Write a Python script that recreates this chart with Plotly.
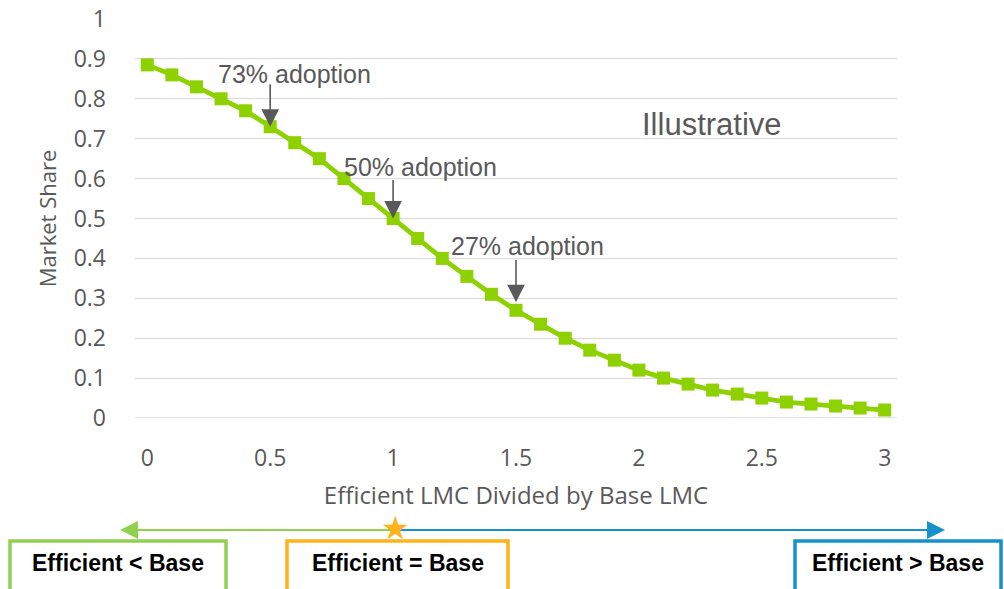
import plotly.graph_objects as go

# ---- data ----
x_ratio = [0.0, 0.1, 0.2, 0.3, 0.4, 0.5, 0.6, 0.7, 0.8, 0.9, 1.0,
           1.1, 1.2, 1.3, 1.4, 1.5, 1.6, 1.7, 1.8, 1.9, 2.0,
           2.1, 2.2, 2.3, 2.4, 2.5, 2.6, 2.7, 2.8, 2.9, 3.0]
market_share = [0.885, 0.86, 0.83, 0.80, 0.77, 0.73, 0.69, 0.65, 0.60, 0.55, 0.50,
                0.45, 0.40, 0.355, 0.31, 0.27, 0.235, 0.20, 0.17, 0.145, 0.12,
                0.10, 0.085, 0.07, 0.06, 0.05, 0.04, 0.035, 0.03, 0.025, 0.02]

y_ticks = [0, 0.1, 0.2, 0.3, 0.4, 0.5, 0.6, 0.7, 0.8, 0.9, 1]
x_ticks = [0, 0.5, 1, 1.5, 2, 2.5, 3]

ann_labels = ["73% adoption", "50% adoption", "27% adoption"]
ann_label_x = [0.598, 1.112, 1.545]
ann_label_y = [0.862, 0.628, 0.43]
ann_arrow_x = [0.5, 1.0, 1.5]
ann_arrow_tail = [0.84, 0.60, 0.40]
ann_arrow_tip = [0.73, 0.50, 0.29]

box_labels = ["Efficient < Base", "Efficient = Base", "Efficient > Base"]

W, H = 1004, 589
ML, MR, MT, MB = 135, 107, 19, 171
PW, PH = W - ML - MR, H - MT - MB


def px(p):
    return (p - ML) / PW


def py(p):
    return (H - MB - p) / PH


GREY = "#595959"
GREEN = "#92D050"
ORANGE = "#FFB31A"
BLUE = "#1591CC"
LINE_GREEN = "#8DD100"

fig = go.Figure()
fig.add_trace(go.Scatter(
    x=x_ratio, y=market_share, mode="lines+markers",
    line=dict(color=LINE_GREEN, width=4.8),
    marker=dict(symbol="square", size=13, color=LINE_GREEN),
    showlegend=False, hoverinfo="x+y",
))

annotations = []
for lab, lx, ly in zip(ann_labels, ann_label_x, ann_label_y):
    annotations.append(dict(x=lx, y=ly, xref="x", yref="y", text=lab, showarrow=False,
                            font=dict(family="Liberation Sans, Arial", size=25, color=GREY),
                            xanchor="center", yanchor="middle"))
for axx, tail, tip in zip(ann_arrow_x, ann_arrow_tail, ann_arrow_tip):
    annotations.append(dict(x=axx, y=tip, ax=axx, ay=tail, xref="x", yref="y",
                            axref="x", ayref="y", text="", showarrow=True,
                            arrowhead=2, arrowsize=2.2, arrowwidth=1.6, arrowcolor=GREY))
annotations.append(dict(x=2.297, y=0.736, xref="x", yref="y", text="Illustrative",
                        showarrow=False,
                        font=dict(family="Liberation Sans, Arial", size=31, color=GREY)))

# bottom arrows
annotations.append(dict(x=px(120), y=py(530), xref="paper", yref="paper", ax=275, ay=0,
                        text="", showarrow=True, arrowhead=2, arrowsize=1.8,
                        arrowwidth=2, arrowcolor=GREEN))
annotations.append(dict(x=px(945), y=py(530), xref="paper", yref="paper", ax=-550, ay=0,
                        text="", showarrow=True, arrowhead=2, arrowsize=1.8,
                        arrowwidth=2, arrowcolor=BLUE))
annotations.append(dict(x=px(395), y=py(528), xref="paper", yref="paper", text="★",
                        showarrow=False, font=dict(family="DejaVu Sans", size=32, color=ORANGE),
                        xanchor="center", yanchor="middle"))

shapes = []
box_px = [(10, 226, GREEN), (287, 508, ORANGE), (795, 1001, BLUE)]
for (x0, x1, col), lab in zip(box_px, box_labels):
    shapes.append(dict(type="rect", xref="paper", yref="paper",
                       x0=px(x0), x1=px(x1), y0=py(600), y1=py(541),
                       line=dict(color=col, width=3.5), fillcolor="white", layer="above"))
    annotations.append(dict(x=px((x0 + x1) / 2), y=py(563), xref="paper", yref="paper",
                            text="<b>" + lab.replace("<", "&lt;").replace(">", "&gt;") + "</b>",
                            showarrow=False, xanchor="center", yanchor="middle",
                            font=dict(family="Liberation Sans, Arial", size=23, color="black")))

fig.update_layout(
    width=W, height=H,
    margin=dict(l=ML, r=MR, t=MT, b=MB, autoexpand=False),
    paper_bgcolor="white", plot_bgcolor="white",
    font=dict(family="Open Sans", color=GREY),
    xaxis=dict(range=[-0.05, 3.05], tickvals=x_ticks, ticktext=[str(t) for t in x_ticks],
               showgrid=False, zeroline=False, showline=False,
               tickfont=dict(size=23, color=GREY), ticklabelstandoff=24,
               title=dict(text="Efficient LMC Divided by Base LMC",
                          font=dict(size=24, color=GREY), standoff=15)),
    yaxis=dict(range=[0, 1], tickvals=y_ticks, ticktext=[str(t) for t in y_ticks],
               showgrid=True, gridcolor="#D9D9D9", gridwidth=1.3, zeroline=False,
               showline=False, tickfont=dict(size=23, color=GREY), ticklabelstandoff=28,
               title=dict(text="Market Share", font=dict(size=22, color=GREY), standoff=10)),
    annotations=annotations, shapes=shapes,
)
fig.add_hline(y=0, line=dict(color="#D9D9D9", width=1.3), layer="below")

fig.write_html("out.html", config={"displayModeBar": False},
               post_script="document.body.style.margin='0';")
